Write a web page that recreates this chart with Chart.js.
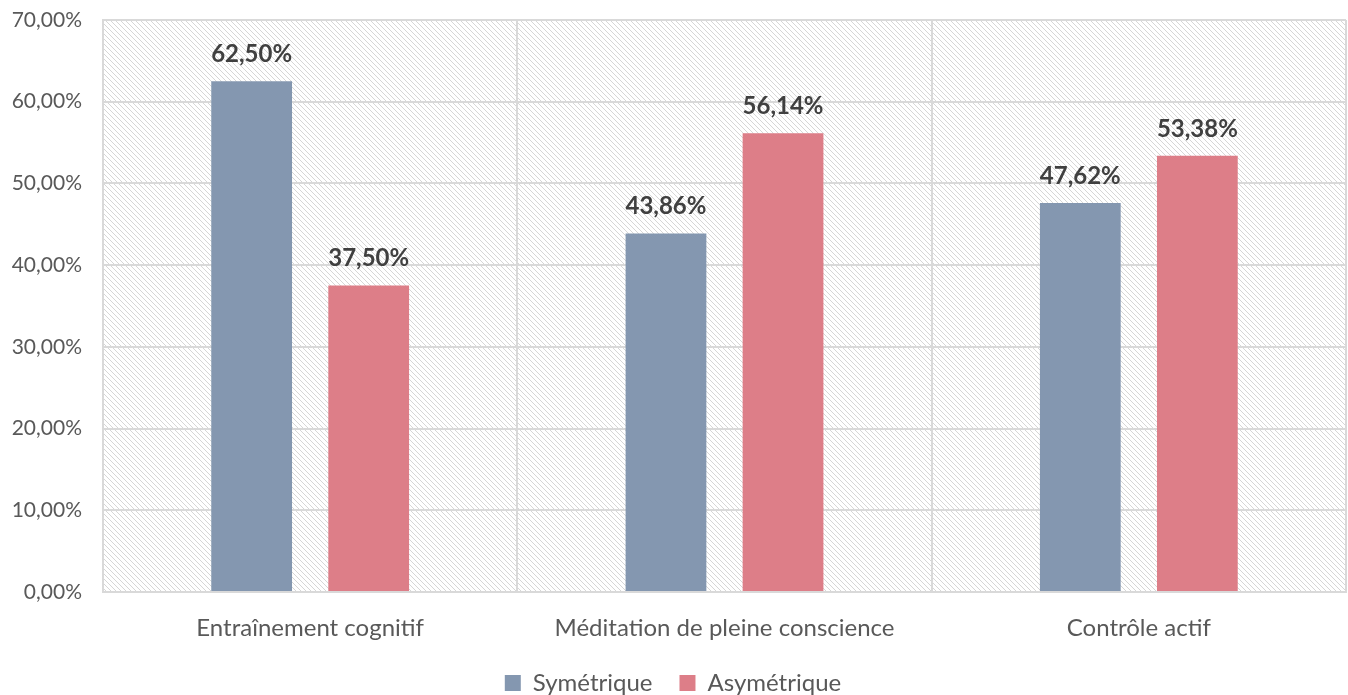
<!DOCTYPE html>
<html><head><meta charset="utf-8">
<script src="https://cdn.jsdelivr.net/npm/chart.js@4"></script>
<style>html,body{margin:0;padding:0;background:#fff}#wrap{width:1348px;height:695px}</style>
</head><body><div id="wrap"><canvas id="c" width="1348" height="695"></canvas></div>
<script>
const categories = ["Entraînement cognitif", "Méditation de pleine conscience", "Contrôle actif"];
const symetrique = [62.50, 43.86, 47.62];
const asymetrique = [37.50, 56.14, 53.38];
const seriesNames = ["Symétrique", "Asymétrique"];
const yTicks = [0, 10, 20, 30, 40, 50, 60, 70];

const FONT = "Lato, 'Open Sans', sans-serif";
const fmt = v => v.toFixed(2).replace('.', ',') + '%';

function hatch() {
  const p = document.createElement('canvas');
  p.width = 5; p.height = 5;
  const g = p.getContext('2d');
  g.fillStyle = '#ffffff'; g.fillRect(0,0,5,5);
  g.strokeStyle = '#d6d6d6'; g.lineWidth = 1;
  g.beginPath();
  g.moveTo(-1,-1); g.lineTo(6,6);
  g.moveTo(-1,4); g.lineTo(1,6);
  g.moveTo(4,-1); g.lineTo(6,1);
  g.stroke();
  return p;
}

const bgPlugin = {
  id: 'bg',
  beforeDraw(chart) {
    const {ctx, chartArea: a} = chart;
    ctx.save();
    ctx.fillStyle = ctx.createPattern(hatch(), 'repeat');
    ctx.fillRect(a.left, a.top, a.right - a.left, a.bottom - a.top);
    ctx.restore();
  },
  afterDatasetsDraw(chart) {
    const ctx = chart.ctx;
    ctx.save();
    ctx.font = "bold 24px " + FONT;
    ctx.fillStyle = '#404040';
    ctx.textAlign = 'center';
    ctx.textBaseline = 'middle';
    chart.data.datasets.forEach((ds, i) => {
      chart.getDatasetMeta(i).data.forEach((bar, j) => {
        ctx.fillText(fmt(ds.data[j]), bar.x, bar.y - 27);
      });
    });
    ctx.restore();
  }
};

new Chart(document.getElementById('c'), {
  type: 'bar',
  data: {
    labels: categories,
    datasets: [
      {label: seriesNames[0], data: symetrique, backgroundColor: '#8497b0'},
      {label: seriesNames[1], data: asymetrique, backgroundColor: '#dd7e88'}
    ]
  },
  options: {
    responsive: false,
    animation: false,
    devicePixelRatio: 1,
    layout: {padding: {top: 20, right: 2, left: 0, bottom: -10}},
    datasets: {bar: {categoryPercentage: 0.565, barPercentage: 0.69}},
    scales: {
      x: {
        grid: {color: '#d9d9d9', lineWidth: 2, drawTicks: false, offset: true},
        border: {color: '#d9d9d9', width: 2},
        ticks: {color: '#595959', font: {family: FONT, size: 24}, padding: 22},
        afterFit(s) { s.height = 52; }
      },
      y: {
        min: 0, max: 70,
        afterBuildTicks(axis) { axis.ticks = yTicks.map(v => ({value: v})); },
        grid: {color: '#d9d9d9', lineWidth: 2, drawTicks: false},
        border: {color: '#d9d9d9', width: 2},
        ticks: {color: '#595959', font: {family: FONT, size: 21}, padding: 21,
                callback: v => fmt(v)},
        afterFit(s) { s.width = 103; s.paddingTop = 0; s.paddingBottom = 0; }
      }
    },
    plugins: {
      legend: {
        position: 'bottom',
        labels: {color: '#595959', font: {family: FONT, size: 24}, boxWidth: 16, boxHeight: 16, padding: 27}
      },
      tooltip: {enabled: false}
    }
  },
  plugins: [bgPlugin]
});
</script></body></html>
